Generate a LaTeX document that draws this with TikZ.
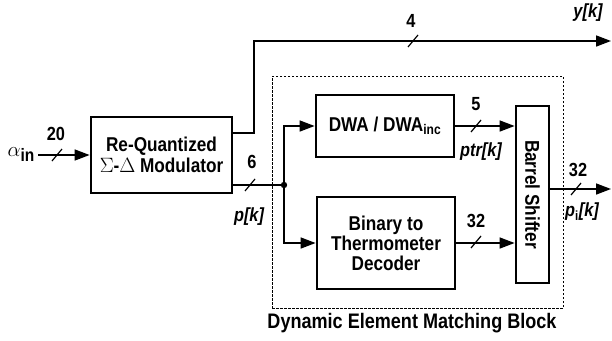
\documentclass[tikz,border=0pt]{standalone}
\usepackage{fontspec}
\setmainfont{Liberation Sans}[FakeStretch=0.86]
\usetikzlibrary{arrows.meta,calc}
\tikzset{
  blk/.style={draw, line width=2.8pt, fill=white, align=center, font=\fontsize{20}{22}\selectfont\bfseries, inner sep=2pt},
  wire/.style={line width=1.6pt},
  arr/.style={wire, -{Triangle[length=15pt,width=11pt]}},
  lbl/.style={font=\fontsize{19}{22}\selectfont\bfseries, inner sep=1pt},
  ilbl/.style={font=\fontsize{19}{22}\selectfont\bfseries\itshape, inner sep=1pt},
  slashmark/.style={line width=1.2pt},
  dembox/.style={draw, line width=1pt, dash pattern=on 2.5pt off 1.5pt}
}
\newcommand{\bslash}[1]{\draw[slashmark] ($(#1)+(-5,6)$) -- ($(#1)+(5,-6)$);}
\begin{document}
\begin{tikzpicture}[x=1pt,y=-1pt]
\useasboundingbox (0,0) rectangle (612,340);
% dashed DEM block
\node[dembox, minimum width=291pt, minimum height=232pt] (dem) at (417.5,192) {};
\node[lbl, font=\fontsize{21}{24}\selectfont\bfseries] (demlbl) at (412,323) {Dynamic Element Matching Block};
% blocks
\node[blk, minimum width=141pt, minimum height=76pt] (mod) at (161.5,155) {Re-Quantized\\[-1pt]$\Sigma$-$\Delta$ Modulator};
\node[blk, minimum width=138pt, minimum height=62pt] (dwa) at (385,126) {DWA / DWA\textsubscript{inc}};
\node[blk, minimum width=138pt, minimum height=92pt] (bin) at (386,243) {Binary to\\[-2pt]Thermometer\\[-2pt]Decoder};
\node[blk, minimum width=33pt, minimum height=177pt] (bar) at (532.5,194.5) {};
\node[lbl, font=\fontsize{20}{22}\selectfont\bfseries, rotate=-90] (bartxt) at (bar.center) {Barrel Shifter};
% coordinates
\coordinate (ain) at (38,155);
\coordinate (ytap) at (0,133);
\coordinate (c1) at (254,41);
\coordinate (yend) at (611,41);
\coordinate (jn) at (284,185);
\coordinate (pout) at (0,189);
\coordinate (pend) at (611,189);
% input
\node[font=\fontsize{20}{20}\selectfont] (alpha) at (21,155) {$\alpha$\raisebox{-5pt}{\bfseries\fontsize{18}{18}\selectfont in}};
\draw[arr] (ain) -- (mod.west);
\bslash{57,155}
\node[lbl] (n20) at (56,134) {20};
% y output
\draw[arr] (mod.east |- ytap) -| (c1) -- (yend);
\bslash{413,41}
\node[lbl] (n4) at (411,21) {4};
\node[ilbl] (yk) at (588,13) {y[k]};
% p output
\draw[wire] (mod.east |- jn) -- (jn);
\fill (jn) circle (3.2pt);
\bslash{250,185}
\node[lbl] (n6) at (252,162) {6};
\node[ilbl] (pk) at (249,217) {p[k]};
\draw[arr] (jn) |- (dwa.west);
\draw[arr] (jn) |- (bin.west);
% to barrel
\draw[arr] (dwa.east) -- (dwa.east -| bar.west);
\bslash{476,126}
\node[lbl] (n5) at (476,104) {5};
\node[ilbl] (ptr) at (481,152) {ptr[k]};
\draw[arr] (bin.east) -- (bin.east -| bar.west);
\bslash{476,242}
\node[lbl] (n32a) at (476,221) {32};
% output
\draw[arr] (bar.east |- pout) -- (pend);
\bslash{576,189}
\node[lbl] (n32b) at (578,170) {32};
\node[ilbl] (pik) at (582,212) {p\textsubscript{\upshape i}[k]};
\end{tikzpicture}
\end{document}
